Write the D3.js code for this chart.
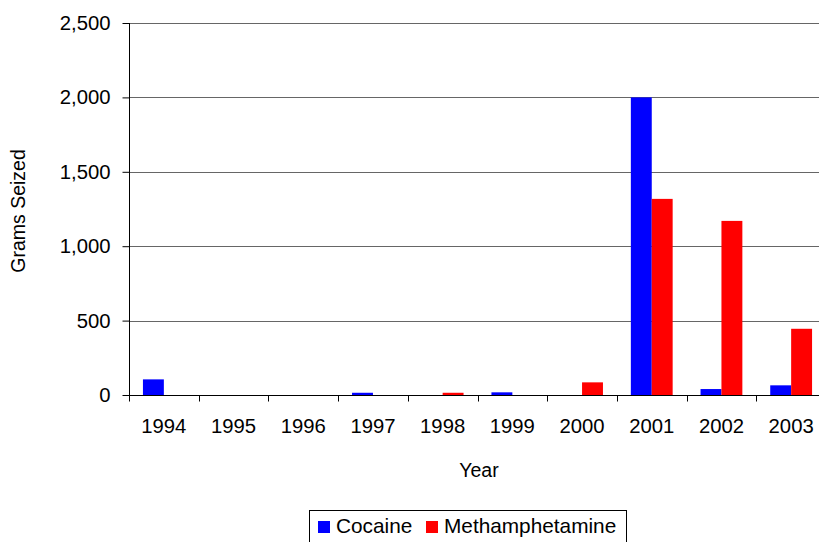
<!DOCTYPE html>
<html>
<head>
<meta charset="utf-8">
<script src="https://cdn.jsdelivr.net/npm/d3@7"></script>
<style>
  html, body { margin: 0; padding: 0; background: #fff; }
  svg { display: block; }
  text { font-family: "Liberation Sans", Arial, sans-serif; fill: #000; }
</style>
</head>
<body>
<svg id="chart" width="819" height="542"></svg>
<script>
// Annual seizures, grams
const years = ["1994", "1995", "1996", "1997", "1998", "1999", "2000", "2001", "2002", "2003"];
const cocaine = [105, 0, 0, 15, 0, 18, 0, 2000, 40, 65];
const methamphetamine = [0, 0, 0, 0, 15, 0, 85, 1318, 1170, 445];
const seriesNames = ["Cocaine", "Methamphetamine"];
const seriesColors = ["#0000ff", "#ff0000"];
const yTicks = [0, 500, 1000, 1500, 2000, 2500];

const svg = d3.select("#chart");
const tickFont = "20.3px";
const titleFont = "19.5px";
const legendFont = "20.8px";

const plot = { left: 129, right: 826, top: 23, bottom: 395 };

const x = d3.scaleBand().domain(years).range([plot.left, plot.right]).paddingInner(0).paddingOuter(0);
const inner = d3.scaleBand().domain(seriesNames).range([0, x.bandwidth()]).paddingInner(0).paddingOuter(2 / 3);
const y = d3.scaleLinear().domain([0, 2500]).range([plot.bottom, plot.top]);

const rows = years.map((yr, i) => ({ year: yr, values: [cocaine[i], methamphetamine[i]] }));

// horizontal gridlines
svg.append("g")
  .selectAll("line")
  .data(yTicks.filter(d => d > 0))
  .join("line")
  .attr("x1", plot.left).attr("x2", 819)
  .attr("y1", d => Math.round(y(d)) + 0.5).attr("y2", d => Math.round(y(d)) + 0.5)
  .attr("stroke", "#666").attr("stroke-width", 1);

// bars
svg.append("g")
  .selectAll("g")
  .data(rows)
  .join("g")
  .attr("transform", d => `translate(${x(d.year)},0)`)
  .selectAll("rect")
  .data(d => d.values.map((v, j) => ({ name: seriesNames[j], value: v, color: seriesColors[j] })))
  .join("rect")
  .attr("x", d => inner(d.name))
  .attr("width", inner.bandwidth())
  .attr("y", d => y(d.value))
  .attr("height", d => y(0) - y(d.value))
  .attr("fill", d => d.color);

// y axis
const yAxis = svg.append("g")
  .attr("transform", `translate(${plot.left + 0.5},0)`)
  .call(d3.axisLeft(y).tickValues(yTicks).tickSize(7).tickPadding(12).tickFormat(d3.format(",")));
yAxis.select(".domain").attr("stroke", "#000").attr("d", `M0,${plot.top}V${plot.bottom}`);
yAxis.selectAll(".tick line").attr("stroke", "#000");
yAxis.selectAll("text").style("font-size", tickFont).attr("font-family", null);

// x axis: baseline with ticks at category boundaries
const xAxis = svg.append("g").attr("transform", `translate(0,${Math.round(plot.bottom) + 0.5})`);
xAxis.append("line")
  .attr("x1", plot.left).attr("x2", 819)
  .attr("stroke", "#000");
xAxis.selectAll("line.tick")
  .data(years.concat(["end"]))
  .join("line")
  .attr("class", "tick")
  .attr("x1", d => Math.round(d === "end" ? plot.right : x(d)) + 0.5)
  .attr("x2", d => Math.round(d === "end" ? plot.right : x(d)) + 0.5)
  .attr("y1", 0).attr("y2", 6)
  .attr("stroke", "#000");
xAxis.selectAll("text")
  .data(years)
  .join("text")
  .attr("x", d => x(d) + x.bandwidth() / 2)
  .attr("y", 37)
  .attr("text-anchor", "middle")
  .style("font-size", tickFont)
  .text(d => d);

// axis titles
svg.append("text")
  .attr("x", 479).attr("y", 477)
  .attr("text-anchor", "middle")
  .style("font-size", titleFont)
  .text("Year");

svg.append("text")
  .attr("transform", "translate(25,211) rotate(-90)")
  .attr("text-anchor", "middle")
  .style("font-size", titleFont)
  .text("Grams Seized");

// legend
const legend = svg.append("g");
legend.append("rect")
  .attr("x", 309.5).attr("y", 510.5)
  .attr("width", 317).attr("height", 40)
  .attr("fill", "#fff").attr("stroke", "#000");
const legendX = [318, 426];
seriesNames.forEach((name, i) => {
  legend.append("rect")
    .attr("x", legendX[i]).attr("y", 521)
    .attr("width", 12).attr("height", 12)
    .attr("fill", seriesColors[i]);
  legend.append("text")
    .attr("x", legendX[i] + 18).attr("y", 533)
    .style("font-size", legendFont)
    .text(name);
});
</script>
</body>
</html>
